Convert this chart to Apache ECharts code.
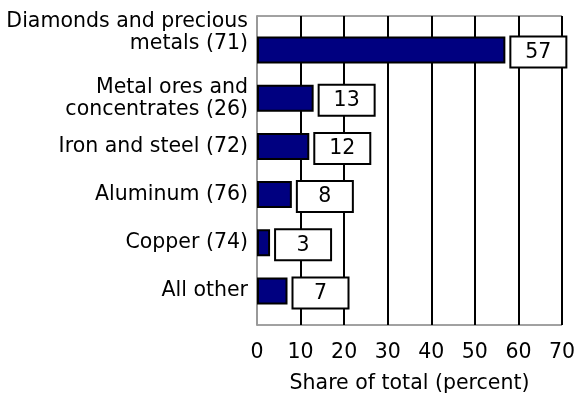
<!DOCTYPE html>
<html>
<head>
<meta charset="utf-8">
<script src="https://cdn.jsdelivr.net/npm/echarts@6/dist/echarts.min.js"></script>
<style>html,body{margin:0;padding:0;background:#fff;}#c{width:584px;height:397px;}</style>
</head>
<body>
<div id="c"></div>
<script>
var categories = ['Diamonds and precious\nmetals (71)', 'Metal ores and\nconcentrates (26)', 'Iron and steel (72)', 'Aluminum (76)', 'Copper (74)', 'All other'];
var shares = [57, 13, 12, 8, 3, 7];
var xTicks = [0, 10, 20, 30, 40, 50, 60, 70];
var axisTitle = 'Share of total (percent)';
var topTitle = '(2005)';

var FONT = 'DejaVu Sans';
var FS = 20.5;
var chart = echarts.init(document.getElementById('c'), null, {renderer: 'canvas'});
chart.setOption({
  animation: false,
  textStyle: {fontFamily: FONT},
  title: {text: topTitle, left: 320, top: -24, textStyle: {fontFamily: FONT, fontSize: FS, fontWeight: 'normal', color: '#000'}},
  grid: [
    {left: 257, width: 305, top: 16, height: 309, show: true, borderColor: '#444', borderWidth: 1, backgroundColor: 'transparent', containLabel: false, outerBoundsMode: 'none'},
    {left: 257, width: 305, top: 26, height: 289, containLabel: false, outerBoundsMode: 'none'}
  ],
  xAxis: [
    {gridIndex: 0, type: 'value', min: xTicks[0], max: xTicks[xTicks.length - 1], interval: 10,
     axisLine: {show: false}, axisTick: {show: false},
     splitLine: {show: true, lineStyle: {color: '#000', width: 2}},
     axisLabel: {margin: 17, fontSize: FS, color: '#000', fontFamily: FONT},
     name: axisTitle, nameLocation: 'middle', nameGap: 48,
     nameTextStyle: {fontSize: FS, color: '#000', fontFamily: FONT}},
    {gridIndex: 1, type: 'value', min: xTicks[0], max: xTicks[xTicks.length - 1], show: false}
  ],
  yAxis: [
    {gridIndex: 0, type: 'value', min: 0, max: 1, axisLabel: {show: false}, axisTick: {show: false},
     splitLine: {show: false}, axisLine: {show: true, lineStyle: {color: '#999', width: 2}}},
    {gridIndex: 1, type: 'category', data: categories, inverse: true,
     axisLine: {show: false}, axisTick: {show: false}, splitLine: {show: false},
     axisLabel: {interval: 0, hideOverlap: false, margin: 9, fontSize: FS, color: '#000', fontFamily: FONT, lineHeight: 22, align: 'right',
       formatter: function (v, i) {
         if (i !== 0) return v;
         return v.split('\n').map(function (s) { return '{t|' + s + '}'; }).join('\n') + '\n{gap| }';
       },
       rich: {
         t: {fontSize: FS, fontFamily: FONT, color: '#000', lineHeight: 22},
         gap: {fontSize: 4, lineHeight: 35}
       }}}
  ],
  series: [{
    type: 'bar', xAxisIndex: 1, yAxisIndex: 1, data: shares, barWidth: 27,
    itemStyle: {color: '#000080', borderColor: '#000', borderWidth: 2},
    label: {
      show: true, position: 'right', distance: 6, offset: [0, 2],
      formatter: '{v|{c}}',
      backgroundColor: '#fff', borderColor: '#000', borderWidth: 2,
      padding: [4, 0, 3, 0],
      rich: {v: {width: 54, align: 'center', fontSize: FS, color: '#000', fontFamily: FONT, lineHeight: 22}}
    }
  }]
});
</script>
</body>
</html>
